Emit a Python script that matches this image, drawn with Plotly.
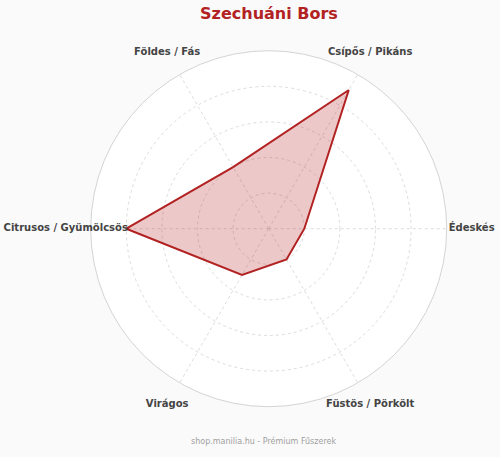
import plotly.graph_objects as go

categories = ["Csípős / Pikáns", "Édeskés", "Füstös / Pörkölt", "Virágos",
              "Citrusos / Gyümölcsös", "Földes / Fás"]
values = [9, 2, 2, 3, 8, 4]
r_max = 10
label_r = 1

title_text = "Szechuáni Bors"
footer_text = "shop.manilia.hu - Prémium Fűszerek"

W, H = 500, 457
cx, cy, R, RL = 268.7, 228.7, 178, 203


def dom(rad):
    return dict(x=[(cx - rad) / W, (cx + rad) / W],
                y=[1 - (cy + rad) / H, 1 - (cy - rad) / H])


r_closed = values + values[:1]
theta_closed = categories + categories[:1]

fig = go.Figure()
fig.add_trace(go.Scatterpolar(
    r=r_closed,
    theta=theta_closed,
    mode="lines",
    fill="toself",
    fillcolor="rgba(178,34,34,0.25)",
    line=dict(color="#b22222", width=2),
    hoverinfo="skip",
    subplot="polar",
))
fig.add_trace(go.Scatterpolar(
    r=[label_r] * len(categories),
    theta=categories,
    mode="text",
    text=["<b>" + c + "</b>" for c in categories],
    textposition="middle center",
    textfont=dict(size=10, color="#444444", family="DejaVu Sans"),
    cliponaxis=False,
    hoverinfo="skip",
    subplot="polar2",
))

fig.update_layout(
    width=W, height=H,
    paper_bgcolor="#fafafa",
    margin=dict(l=0, r=0, t=0, b=0),
    showlegend=False,
    font=dict(family="DejaVu Sans"),
    title=dict(text="<b>" + title_text + "</b>", x=269 / W, xref="container",
               xanchor="center", y=1 - 13 / H, yref="container", yanchor="middle",
               font=dict(size=16, color="#b22222", family="DejaVu Sans")),
    polar=dict(
        domain=dom(R),
        bgcolor="white",
        radialaxis=dict(range=[0, r_max], tickvals=[2, 4, 6, 8, 10],
                        showticklabels=False, ticks="",
                        gridcolor="#dcdcdc", griddash="3px,3px", gridwidth=1,
                        showline=False),
        angularaxis=dict(rotation=60, direction="clockwise",
                         showticklabels=False,
                         gridcolor="#dcdcdc", griddash="3px,3px",
                         linecolor="#d4d4d4", linewidth=1, ticks=""),
    ),
    polar2=dict(
        domain=dom(RL),
        bgcolor="rgba(0,0,0,0)",
        radialaxis=dict(range=[0, 1.0001], visible=False),
        angularaxis=dict(rotation=60, direction="clockwise", visible=False,
                         categoryorder="array", categoryarray=categories),
    ),
    annotations=[dict(text=footer_text, xref="paper", yref="paper",
                      x=263 / W, y=1 - 447.5 / H, showarrow=False,
                      font=dict(size=8, color="#a0a0a0", family="DejaVu Sans"))],
)

fig.write_html("out.html", config={"displayModeBar": False},
               post_script="document.body.style.margin='0';")
